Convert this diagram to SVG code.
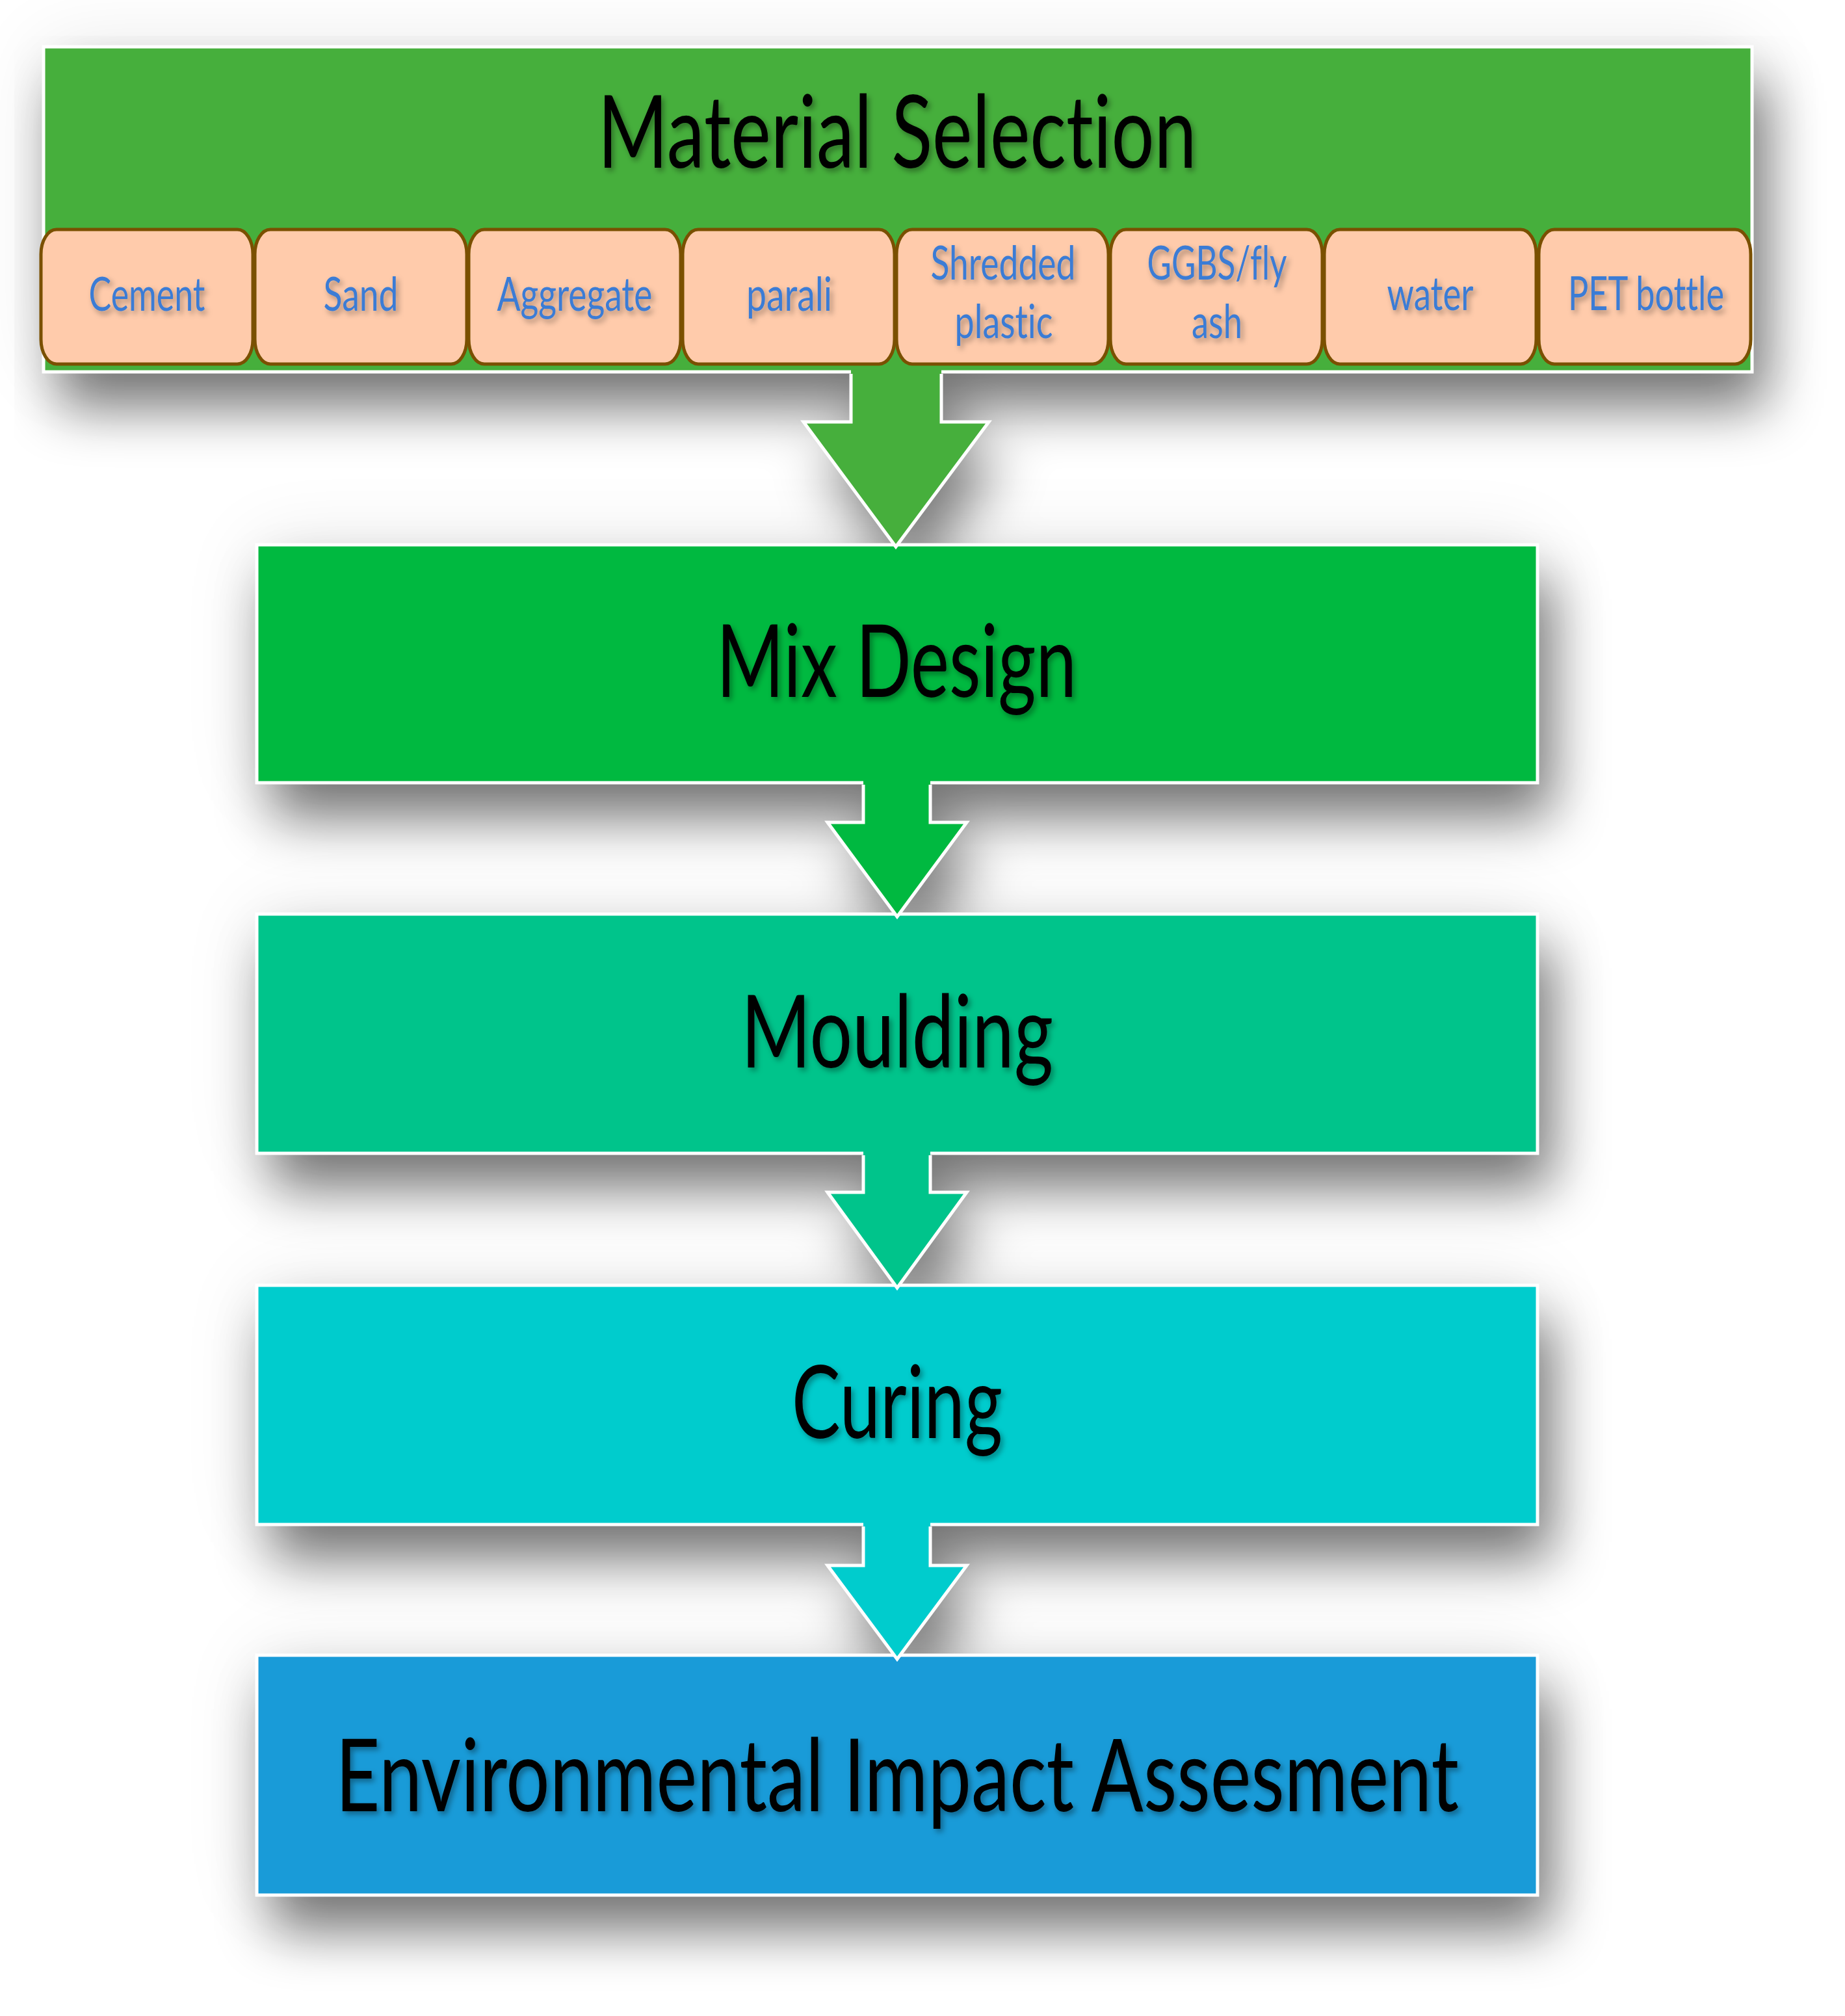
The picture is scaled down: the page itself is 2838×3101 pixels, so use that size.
<svg xmlns="http://www.w3.org/2000/svg" xmlns:xlink="http://www.w3.org/1999/xlink" width="2838" height="3101" viewBox="0 0 2838 3101">
  <defs>
    <style>
      .box { stroke: #ffffff; stroke-width: 5; }
      .pill { fill: #ffcbab; stroke: #7a5000; stroke-width: 5; }
      .big { font-family: Lato, "Open Sans", "Liberation Sans", sans-serif; font-size: 155px; fill: #000000; text-anchor: middle; font-variant-ligatures: none; font-feature-settings: "liga" 0, "clig" 0; }
      .small { font-family: Lato, "Open Sans", "Liberation Sans", sans-serif; font-size: 72px; fill: #3a7bd5; text-anchor: middle; font-variant-ligatures: none; font-feature-settings: "liga" 0, "clig" 0; }
      .outline { fill: none; stroke: #ffffff; stroke-width: 5; stroke-linejoin: miter; }
    </style>
    <filter id="shadow" filterUnits="userSpaceOnUse" x="0" y="0" width="2838" height="3101">
      <feGaussianBlur in="SourceAlpha" stdDeviation="42"/>
      <feOffset dx="22" dy="55"/>
      <feComponentTransfer><feFuncA type="linear" slope="0.52"/></feComponentTransfer>
    </filter>
    <filter id="halo" filterUnits="userSpaceOnUse" x="0" y="0" width="2838" height="3101">
      <feGaussianBlur in="SourceAlpha" stdDeviation="60"/>
      <feComponentTransfer><feFuncA type="linear" slope="0.1"/></feComponentTransfer>
    </filter>
    <filter id="tshadow" x="-10%" y="-30%" width="130%" height="170%">
      <feDropShadow dx="4" dy="5" stdDeviation="4" flood-color="#000000" flood-opacity="0.35"/>
    </filter>
    <rect id="r-top" x="67" y="72" width="2628" height="500"/>
    <rect id="r-mix" x="395" y="838" width="1970" height="366"/>
    <rect id="r-mould" x="395" y="1406" width="1970" height="368"/>
    <rect id="r-cure" x="395" y="1977" width="1970" height="368"/>
    <rect id="r-env" x="395" y="2546" width="1970" height="369"/>
    <polygon id="a1" points="1309,565 1448,565 1448,649 1521,649 1378,841 1236,649 1309,649"/>
    <polygon id="a2" points="1328,1200 1431,1200 1431,1265 1487,1265 1380,1410 1273,1265 1328,1265"/>
    <polygon id="a3" points="1328,1770 1431,1770 1431,1834 1487,1834 1380,1981 1273,1834 1328,1834"/>
    <polygon id="a4" points="1328,2341 1431,2341 1431,2408 1487,2408 1380,2552 1273,2408 1328,2408"/>
  </defs>

  <rect x="0" y="0" width="2838" height="3101" fill="#ffffff"/>

  <!-- shadows -->
  <g id="shadows">
    <g filter="url(#halo)">
      <use xlink:href="#r-top"/><use xlink:href="#r-mix"/><use xlink:href="#r-mould"/><use xlink:href="#r-cure"/><use xlink:href="#r-env"/>
    </g>
    <g filter="url(#shadow)">
      <use xlink:href="#r-top"/><use xlink:href="#r-mix"/><use xlink:href="#r-mould"/><use xlink:href="#r-cure"/><use xlink:href="#r-env"/>
      <use xlink:href="#a1"/><use xlink:href="#a2"/><use xlink:href="#a3"/><use xlink:href="#a4"/>
    </g>
  </g>

  <!-- Material Selection -->
  <g id="material-selection">
    <use xlink:href="#r-top" class="box" fill="#46af3c"/>
    <text class="big" x="1380" y="258" textLength="921" lengthAdjust="spacingAndGlyphs" filter="url(#tshadow)">Material Selection</text>
  </g>

  <g id="cement">
    <rect class="pill" x="63" y="353" width="326" height="207" rx="24" ry="38"/>
    <text class="small" x="226" y="478" textLength="179" lengthAdjust="spacingAndGlyphs" filter="url(#tshadow)">Cement</text>
  </g>
  <g id="sand">
    <rect class="pill" x="392" y="353" width="326" height="207" rx="24" ry="38"/>
    <text class="small" x="555" y="478" textLength="115" lengthAdjust="spacingAndGlyphs" filter="url(#tshadow)">Sand</text>
  </g>
  <g id="aggregate">
    <rect class="pill" x="721" y="353" width="326" height="207" rx="24" ry="38"/>
    <text class="small" x="884" y="478" textLength="239" lengthAdjust="spacingAndGlyphs" filter="url(#tshadow)">Aggregate</text>
  </g>
  <g id="parali">
    <rect class="pill" x="1050" y="353" width="326" height="207" rx="24" ry="38"/>
    <text class="small" x="1214" y="478" textLength="132" lengthAdjust="spacingAndGlyphs" filter="url(#tshadow)">parali</text>
  </g>
  <g id="shredded-plastic">
    <rect class="pill" x="1379" y="353" width="326" height="207" rx="24" ry="38"/>
    <text class="small" x="1543" y="430" textLength="223" lengthAdjust="spacingAndGlyphs" filter="url(#tshadow)">Shredded</text>
    <text class="small" x="1544" y="520" textLength="151" lengthAdjust="spacingAndGlyphs" filter="url(#tshadow)">plastic</text>
  </g>
  <g id="ggbs-fly-ash">
    <rect class="pill" x="1708" y="353" width="326" height="207" rx="24" ry="38"/>
    <text class="small" x="1872" y="430" textLength="215" lengthAdjust="spacingAndGlyphs" filter="url(#tshadow)">GGBS/fly</text>
    <text class="small" x="1872" y="520" textLength="78" lengthAdjust="spacingAndGlyphs" filter="url(#tshadow)">ash</text>
  </g>
  <g id="water">
    <rect class="pill" x="2037" y="353" width="326" height="207" rx="24" ry="38"/>
    <text class="small" x="2200" y="477" textLength="133" lengthAdjust="spacingAndGlyphs" filter="url(#tshadow)">water</text>
  </g>
  <g id="pet-bottle">
    <rect class="pill" x="2367" y="353" width="326" height="207" rx="24" ry="38"/>
    <text class="small" x="2532" y="477" textLength="240" lengthAdjust="spacingAndGlyphs" filter="url(#tshadow)">PET bottle</text>
  </g>

  <g id="mix-design">
    <use xlink:href="#r-mix" class="box" fill="#00b940"/>
  </g>
  <g id="moulding">
    <use xlink:href="#r-mould" class="box" fill="#00c48b"/>
  </g>
  <g id="curing">
    <use xlink:href="#r-cure" class="box" fill="#00cccd"/>
  </g>
  <g id="environmental-impact-assesment">
    <use xlink:href="#r-env" class="box" fill="#199bd8"/>
  </g>

  <!-- connectors -->
  <g id="connectors">
    <use xlink:href="#a1" fill="#46af3c"/>
    <path class="outline" d="M1309,575 V649 H1236 L1378,841 L1521,649 H1448 V575"/>
    <use xlink:href="#a2" fill="#00b940"/>
    <path class="outline" d="M1328,1207 V1265 H1273 L1380,1410 L1487,1265 H1431 V1207"/>
    <use xlink:href="#a3" fill="#00c48b"/>
    <path class="outline" d="M1328,1777 V1834 H1273 L1380,1981 L1487,1834 H1431 V1777"/>
    <use xlink:href="#a4" fill="#00cccd"/>
    <path class="outline" d="M1328,2348 V2408 H1273 L1380,2552 L1487,2408 H1431 V2348"/>
  </g>

  <!-- labels of process boxes -->
  <g id="labels">
    <text class="big" x="1379" y="1072" textLength="554" lengthAdjust="spacingAndGlyphs" filter="url(#tshadow)">Mix Design</text>
    <text class="big" x="1380" y="1642" textLength="480" lengthAdjust="spacingAndGlyphs" filter="url(#tshadow)">Moulding</text>
    <text class="big" x="1380" y="2212" textLength="324" lengthAdjust="spacingAndGlyphs" filter="url(#tshadow)">Curing</text>
    <text class="big" x="1380" y="2786" textLength="1728" lengthAdjust="spacingAndGlyphs" filter="url(#tshadow)">Environmental Impact Assesment</text>
  </g>
</svg>
